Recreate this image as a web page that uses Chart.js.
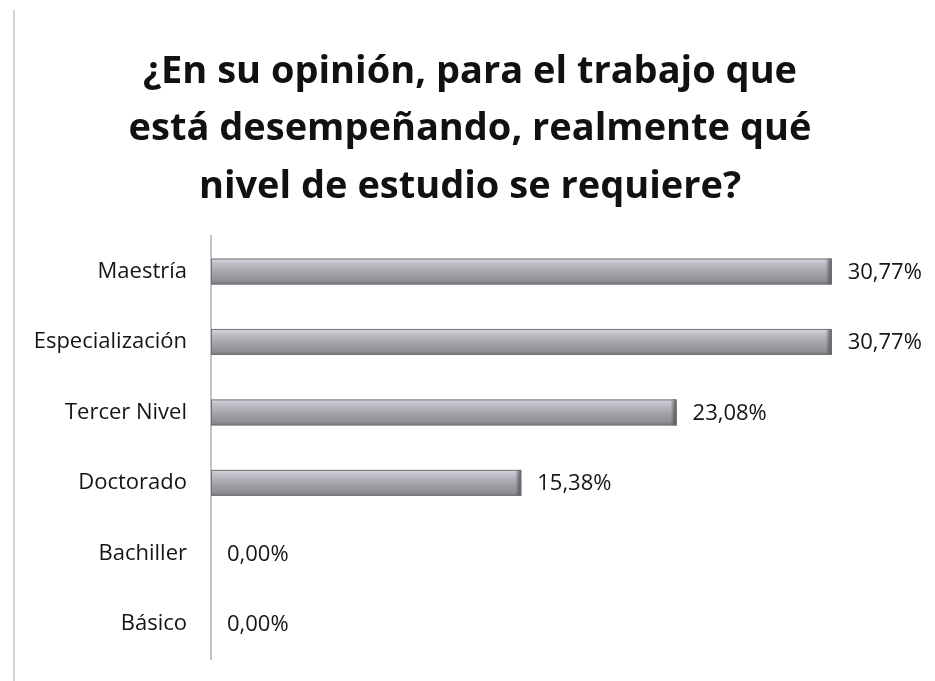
<!DOCTYPE html>
<html>
<head>
<meta charset="utf-8">
<script src="https://cdn.jsdelivr.net/npm/chart.js@4.4.1/dist/chart.umd.min.js"></script>
<style>
  html, body { margin: 0; padding: 0; background: #fff; }
  #wrap { width: 935px; height: 681px; position: relative; }
</style>
</head>
<body>
<div id="wrap"><canvas id="c" width="935" height="681"></canvas></div>
<script>
// Nivel de estudio requerido (porcentaje de respuestas)
const categories = ['Maestría', 'Especialización', 'Tercer Nivel', 'Doctorado', 'Bachiller', 'Básico'];
const values = [30.77, 30.77, 23.08, 15.38, 0.00, 0.00];
const titleLines = [
  '¿En su opinión, para el trabajo que',
  'está desempeñando, realmente qué',
  'nivel de estudio se requiere?'
];

const FONT = '"Open Sans", Lato, sans-serif';
const fmt = v => v.toFixed(2).replace('.', ',') + '%';

// Paints each bar as a shaded gray cylinder using the bar element geometry
const cylinderBars = {
  id: 'cylinderBars',
  afterDatasetsDraw(chart) {
    const { ctx } = chart;
    const meta = chart.getDatasetMeta(0);
    ctx.save();
    meta.data.forEach(bar => {
      const left = Math.min(bar.base, bar.x);
      const right = Math.max(bar.base, bar.x);
      const w = right - left;
      if (w < 1) return;
      const h = bar.height;
      const top = bar.y - h / 2;
      const g = ctx.createLinearGradient(0, top, 0, top + h);
      g.addColorStop(0, '#d8d8e0');
      g.addColorStop(0.18, '#c0c0c8');
      g.addColorStop(0.5, '#a6a6ad');
      g.addColorStop(0.85, '#8f8f95');
      g.addColorStop(1, '#78787e');
      ctx.fillStyle = g;
      ctx.fillRect(left, top, w, h);
      // right end cap
      const cg = ctx.createLinearGradient(right - 6, 0, right, 0);
      cg.addColorStop(0, 'rgba(90,90,96,0)');
      cg.addColorStop(0.5, 'rgba(90,90,96,0.55)');
      cg.addColorStop(1, 'rgba(70,70,76,0.9)');
      ctx.fillStyle = cg;
      ctx.fillRect(right - 6, top, 6, h);
      ctx.strokeStyle = '#707076';
      ctx.lineWidth = 1;
      ctx.strokeRect(left + 0.5, top + 0.5, w - 1, h - 1);
    });
    ctx.restore();
  }
};

const valueLabels = {
  id: 'valueLabels',
  afterDatasetsDraw(chart) {
    const { ctx } = chart;
    const meta = chart.getDatasetMeta(0);
    ctx.save();
    ctx.font = '22px ' + FONT;
    ctx.fillStyle = '#151515';
    ctx.textBaseline = 'middle';
    ctx.textAlign = 'left';
    meta.data.forEach((bar, i) => {
      ctx.fillText(fmt(values[i]), bar.x + 16, bar.y + 1);
    });
    ctx.restore();
  }
};

const frameLine = {
  id: 'frameLine',
  beforeDraw(chart) {
    const { ctx } = chart;
    ctx.save();
    ctx.fillStyle = '#fff';
    ctx.fillRect(0, 0, chart.width, chart.height);
    ctx.strokeStyle = '#d6d6d6';
    ctx.lineWidth = 2;
    ctx.beginPath();
    ctx.moveTo(14, 10);
    ctx.lineTo(14, 681);
    ctx.stroke();
    ctx.restore();
  }
};

new Chart(document.getElementById('c'), {
  type: 'bar',
  data: {
    labels: categories,
    datasets: [{
      data: values,
      backgroundColor: 'rgba(0,0,0,0)',
      borderWidth: 0,
      barThickness: 26
    }]
  },
  options: {
    indexAxis: 'y',
    responsive: false,
    animation: false,
    layout: { padding: { left: 23, right: 18, top: 43, bottom: 22 } },
    plugins: {
      legend: { display: false },
      tooltip: { enabled: false },
      title: {
        display: true,
        text: titleLines,
        color: '#111',
        font: { family: FONT, size: 38, weight: 'bold', lineHeight: 1.52 },
        padding: { top: 0, bottom: 20 }
      }
    },
    scales: {
      x: {
        display: false,
        min: 0,
        max: 35
      },
      y: {
        afterFit(scale) {
          scale.width = 188;
          scale.paddingTop = 0;
          scale.paddingBottom = 0;
        },
        grid: { display: false, drawTicks: false },
        border: { display: true, color: '#c4c4c4', width: 2 },
        ticks: {
          color: '#151515',
          padding: 24,
          font: { family: FONT, size: 22 }
        }
      }
    }
  },
  plugins: [frameLine, cylinderBars, valueLabels]
});
</script>
</body>
</html>
